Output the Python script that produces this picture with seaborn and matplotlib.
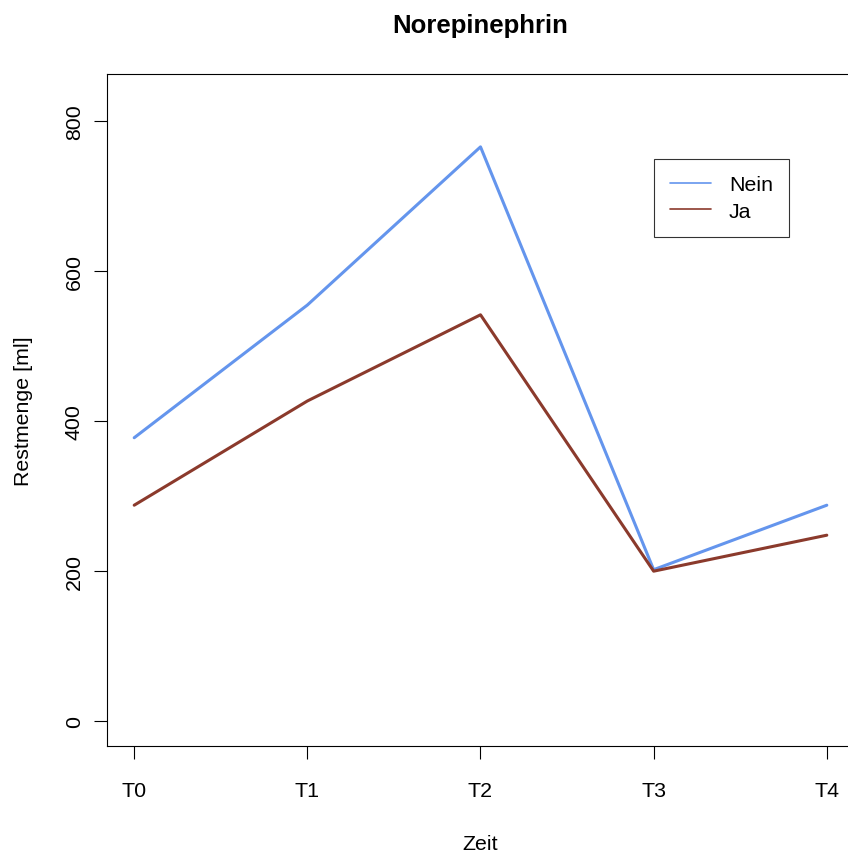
import matplotlib
matplotlib.use("Agg")
import matplotlib.pyplot as plt
import seaborn as sns
import pandas as pd

# ---- data ----
zeitpunkte = ["T0", "T1", "T2", "T3", "T4"]
nein_werte = [378, 555, 766, 202, 288]
ja_werte = [288, 427, 542, 200, 248]
gruppen = ["Nein", "Ja"]
farben = {"Nein": "#6495ED", "Ja": "#8B3A2C"}

df = pd.DataFrame({
    "Zeit": zeitpunkte * 2,
    "Restmenge": nein_werte + ja_werte,
    "Gruppe": ["Nein"] * len(zeitpunkte) + ["Ja"] * len(zeitpunkte),
})

sns.set_style("white")
plt.rcParams["font.family"] = ["Liberation Sans", "DejaVu Sans"]
plt.rcParams["text.color"] = "black"
plt.rcParams["axes.labelcolor"] = "black"
plt.rcParams["xtick.color"] = "black"
plt.rcParams["ytick.color"] = "black"
FS = 15.4

W, H = 848, 853
fig = plt.figure(figsize=(W / 100, H / 100), dpi=100)
ax = fig.add_axes([106.5 / W, 106 / H, 748 / W, 672 / H])

sns.lineplot(data=df, x="Zeit", y="Restmenge", hue="Gruppe", hue_order=gruppen,
             palette=farben, linewidth=2.2, ax=ax, sort=False, legend=True)

ax.set_xlim(-0.16, 4.16)
ax.set_ylim(-33.2, 863.2)
ax.set_yticks([0, 200, 400, 600, 800])
ax.set_xticks(range(len(zeitpunkte)))
ax.set_xticklabels(zeitpunkte)

for s in ax.spines.values():
    s.set_visible(True)
    s.set_color("black")
    s.set_linewidth(0.8)

ax.tick_params(axis="both", which="major", direction="out", length=9.2, width=0.8,
               color="black", labelsize=FS, labelcolor="black",
               bottom=True, left=True)
ax.tick_params(axis="x", pad=15.8)
ax.tick_params(axis="y", pad=7.2, labelrotation=90)
for lab in ax.get_yticklabels():
    lab.set_va("center")

ax.set_title("Norepinephrin", fontsize=18.5, fontweight="bold", pad=30.2, color="black")
ax.set_xlabel("Zeit", fontsize=FS, labelpad=24.5, color="black")
ax.set_ylabel("Restmenge [ml]", fontsize=FS, labelpad=23, color="black")

handles, labels = ax.get_legend_handles_labels()
leg = ax.legend(handles, labels, loc="upper left",
                bbox_to_anchor=(654 / W, 1 - 160 / H),
                bbox_transform=fig.transFigure, borderaxespad=0,
                fontsize=FS, frameon=True, fancybox=False, shadow=False,
                handlelength=41 / 21.4, handletextpad=18 / 21.4,
                borderpad=0.75, labelspacing=0.36, labelcolor="black")
leg.get_frame().set_edgecolor("black")
leg.get_frame().set_linewidth(0.8)
for ln in leg.get_lines():
    ln.set_linewidth(1.2)

fig.savefig("out.png", dpi=100)
